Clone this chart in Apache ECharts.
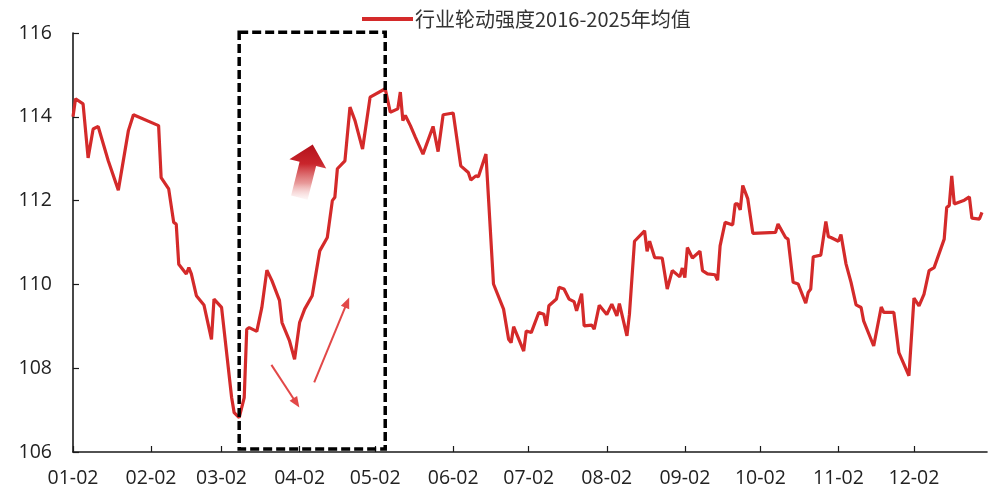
<!DOCTYPE html>
<html>
<head>
<meta charset="utf-8">
<script src="https://cdn.jsdelivr.net/npm/echarts@6/dist/echarts.min.js"></script>
<style>
html,body{margin:0;padding:0;background:#fff;}
#chart{width:1000px;height:494px;}
</style>
</head>
<body>
<div id="chart"></div>
<script>
// ---- data ----
const seriesName = '行业轮动强度2016-2025年均值';
const dates = [
 '01-02','01-03','01-06','01-08','01-10','01-12','01-16','01-20','01-24','01-26',
 '02-05','02-06','02-09','02-11','02-12','02-13','02-16','02-17','02-18','02-20',
 '02-23','02-26','02-27','03-02','03-06','03-07','03-09','03-11','03-12','03-13',
 '03-16','03-18','03-20','03-22','03-25','03-26','03-29','03-31','04-02','04-04',
 '04-07','04-10','04-13','04-15','04-16','04-17','04-20','04-22','04-24','04-27',
 '04-30','05-06','05-08','05-11','05-12','05-13','05-14','05-16','05-18','05-21',
 '05-25','05-27','05-29','06-02','06-05','06-08','06-09','06-11','06-12','06-15',
 '06-18','06-22','06-24','06-25','06-26','06-30','07-01','07-03','07-06','07-08',
 '07-09','07-10','07-13','07-14','07-16','07-18','07-20','07-21','07-23','07-24',
 '07-27','07-28','07-30','08-02','08-04','08-06','08-07','08-10','08-11','08-13',
 '08-17','08-18','08-19','08-21','08-24','08-26','08-28','08-31','09-01','09-02',
 '09-03','09-05','09-08','09-09','09-11','09-14','09-15','09-16','09-18','09-21',
 '09-22','09-23','09-24','09-25','09-27','09-29','10-08','10-09','10-12','10-13',
 '10-15','10-17','10-20','10-21','10-22','10-23','10-26','10-28','10-29','10-30',
 '11-02','11-03','11-05','11-07','11-09','11-11','11-12','11-16','11-19','11-20',
 '11-24','11-26','11-30','12-02','12-04','12-06','12-08','12-10','12-14','12-15',
 '12-16','12-17','12-18','12-22','12-24','12-25','12-28','12-29'
];
const values = [
 114.00,114.43,114.31,113.02,113.71,113.77,112.95,112.25,113.67,114.05,
 113.79,112.55,112.28,111.48,111.44,110.48,110.25,110.40,110.25,109.73,
 109.51,108.69,109.65,109.45,107.30,106.94,106.82,107.30,108.93,108.97,
 108.88,109.45,110.34,110.09,109.62,109.09,108.65,108.21,109.09,109.41,
 109.73,110.80,111.12,112.00,112.08,112.76,112.95,114.23,113.91,113.23,
 114.47,114.67,114.11,114.19,114.59,113.91,114.03,113.79,113.51,113.11,
 113.77,113.17,114.05,114.09,112.83,112.67,112.49,112.59,112.57,113.11,
 110.01,109.41,108.69,108.61,108.99,108.41,108.89,108.85,109.33,109.29,
 109.01,109.49,109.65,109.93,109.89,109.65,109.59,109.37,109.78,109.01,
 109.03,108.93,109.50,109.28,109.53,109.25,109.54,108.77,109.29,111.03,
 111.28,110.79,111.03,110.64,110.63,109.89,110.33,110.18,110.39,110.16,
 110.88,110.63,110.79,110.33,110.25,110.23,110.10,110.92,111.48,111.42,
 111.92,111.92,111.78,112.36,112.04,111.22,111.24,111.44,111.12,111.08,
 110.05,110.01,109.55,109.81,109.89,110.66,110.70,111.50,111.14,111.12,
 111.03,111.19,110.49,110.05,109.51,109.45,109.13,108.53,109.46,109.33,
 109.33,108.37,107.82,109.67,109.49,109.77,110.33,110.40,111.08,111.84,
 111.88,112.59,111.92,112.01,112.09,111.58,111.56,111.72
];
const yTicks = [106, 108, 110, 112, 114, 116];

// calendar-day categories (tick labels) 01-02 .. 12-31
const allDays = [];
(function(){
  const d = new Date(Date.UTC(2025,0,2));
  while (d.getUTCFullYear() === 2025) {
    const m = String(d.getUTCMonth()+1).padStart(2,'0');
    const dd = String(d.getUTCDate()).padStart(2,'0');
    allDays.push(m + '-' + dd);
    d.setUTCDate(d.getUTCDate()+1);
  }
})();

const chart = echarts.init(document.getElementById('chart'));
const font = '"Noto Sans CJK SC","Noto Sans",sans-serif';
const numFont = '"Open Sans","Noto Sans",sans-serif';
const isMonthTick = (idx, val) => String(val).slice(3) === '02';

chart.setOption({
  animation: false,
  backgroundColor: '#fff',
  legend: {
    data: [seriesName],
    left: 357, top: 4,
    icon: 'rect', itemWidth: 51, itemHeight: 4, itemGap: 10,
    textStyle: {fontSize: 20, color: '#333', fontFamily: font, padding: [0,0,0,-3]}
  },
  grid: {left: 73, right: 13, top: 33, bottom: 42, containLabel: false},
  xAxis: {
    type: 'category',
    data: allDays,
    boundaryGap: false,
    axisLine: {lineStyle: {color: '#1a1a1a', width: 1.6}},
    axisTick: {inside: true, length: 6, interval: isMonthTick, lineStyle: {color: '#1a1a1a', width: 1.2}},
    axisLabel: {interval: isMonthTick, margin: 16, fontSize: 19.5, color: '#222', fontFamily: numFont},
    splitLine: {show: false}
  },
  yAxis: {
    type: 'value',
    min: yTicks[0], max: yTicks[yTicks.length-1], interval: 2,
    axisLine: {show: true, lineStyle: {color: '#1a1a1a', width: 1.6}},
    axisTick: {show: true, inside: true, length: 6, lineStyle: {color: '#1a1a1a', width: 1.2}},
    axisLabel: {margin: 21, fontSize: 19.5, color: '#222', fontFamily: numFont},
    splitLine: {show: false}
  },
  series: [{
    name: seriesName,
    type: 'line',
    data: dates.map((d, i) => [d, values[i]]),
    showSymbol: false,
    symbol: 'none',
    lineStyle: {color: '#d42a2a', width: 3.2},
    itemStyle: {color: '#d42a2a'},
    z: 2
  }]
});

// ---- annotations, placed in data space (day index, value) ----
const p0 = chart.convertToPixel({xAxisIndex:0, yAxisIndex:0}, [allDays[0], 106]);
const p1 = chart.convertToPixel({xAxisIndex:0, yAxisIndex:0}, [allDays[allDays.length-1], 116]);
const px = i => p0[0] + i * (p1[0]-p0[0]) / (allDays.length-1);
const py = v => p0[1] + (v-106) * (p1[1]-p0[1]) / 10;
const P = (i, v) => [px(i), py(v)];

const boxL = 66.0, boxR = 124.0, boxTop = 116.02, boxBot = 106.07;
const bigTip = P(95.2, 113.34), bigTail = P(89.9, 112.07);
const thin1 = [P(78.8, 108.08), P(89.9, 107.06)];
const thin2 = [P(95.8, 107.66), P(109.7, 109.69)];

function arrowHead(from, to, len, half) {
  const dx = to[0]-from[0], dy = to[1]-from[1];
  const L = Math.hypot(dx, dy), ux = dx/L, uy = dy/L, nx = -uy, ny = ux;
  const bx = to[0]-ux*len, by = to[1]-uy*len;
  return {points: [[to[0],to[1]],[bx+nx*half,by+ny*half],[bx-nx*half,by-ny*half]], base: [bx+ux*1, by+uy*1]};
}
function bigArrow(tail, tip) {
  const dx = tip[0]-tail[0], dy = tip[1]-tail[1];
  const L = Math.hypot(dx, dy), ux = dx/L, uy = dy/L, nx = -uy, ny = ux;
  const hl = 20, hw = 19, sw = 8.5;
  const bx = tip[0]-ux*hl, by = tip[1]-uy*hl;
  return [
    [tip[0], tip[1]],
    [bx+nx*hw, by+ny*hw],
    [bx+nx*sw, by+ny*sw],
    [tail[0]+nx*sw, tail[1]+ny*sw],
    [tail[0]-nx*sw, tail[1]-ny*sw],
    [bx-nx*sw, by-ny*sw],
    [bx-nx*hw, by-ny*hw]
  ];
}
const h1 = arrowHead(thin1[0], thin1[1], 11, 4.5);
const h2 = arrowHead(thin2[0], thin2[1], 11, 4.5);
const thinColor = '#e24848';

chart.setOption({
  graphic: [
    {type: 'rect', z: 10, silent: true,
     shape: {x: px(boxL), y: py(boxTop), width: px(boxR)-px(boxL), height: py(boxBot)-py(boxTop)},
     style: {fill: 'none', stroke: '#000', lineWidth: 3.5, lineDash: [9, 4]}},
    {type: 'polygon', z: 10, silent: true,
     shape: {points: bigArrow(bigTail, bigTip)},
     style: {fill: {type: 'linear', x: 0, y: 0, x2: 0, y2: 1, colorStops: [
       {offset: 0, color: '#b3111a'}, {offset: 0.35, color: '#c9252c'},
       {offset: 0.7, color: 'rgba(222,110,110,0.7)'}, {offset: 1, color: 'rgba(245,200,200,0.15)'}]}}},
    {type: 'polyline', z: 10, silent: true,
     shape: {points: [thin1[0], h1.base]},
     style: {stroke: thinColor, lineWidth: 2, fill: null}},
    {type: 'polygon', z: 10, silent: true, shape: {points: h1.points}, style: {fill: thinColor}},
    {type: 'polyline', z: 10, silent: true,
     shape: {points: [thin2[0], h2.base]},
     style: {stroke: thinColor, lineWidth: 2, fill: null}},
    {type: 'polygon', z: 10, silent: true, shape: {points: h2.points}, style: {fill: thinColor}}
  ]
});
</script>
</body>
</html>
